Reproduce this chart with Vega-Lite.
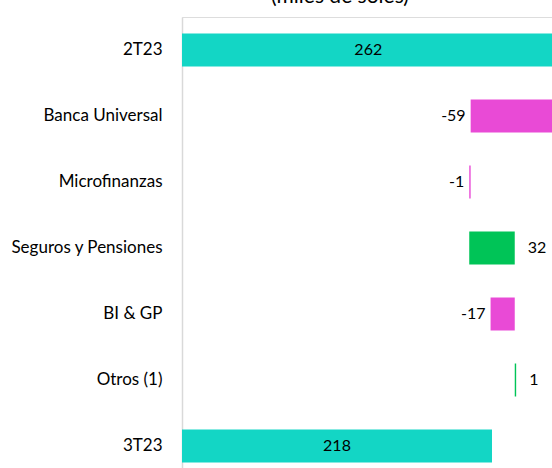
{
  "$schema": "https://vega.github.io/schema/vega-lite/v6.json",
  "autosize": "none",
  "width": 370,
  "height": 462,
  "padding": {"left": 182, "top": 17, "right": 0, "bottom": 0},
  "background": "white",
  "title": {
    "text": "(miles de soles)",
    "font": "Lato",
    "fontSize": 21,
    "fontWeight": "normal",
    "color": "#000000",
    "anchor": "middle",
    "dx": -27,
    "dy": -10,
    "offset": 0
  },
  "data": {
    "values": [
      {"cat": "2T23", "start": 0, "end": 262, "kind": "total", "label": "262"},
      {"cat": "Banca Universal", "start": 262, "end": 203, "kind": "neg", "label": "-59"},
      {"cat": "Microfinanzas", "start": 203, "end": 202, "kind": "neg", "label": "-1"},
      {"cat": "Seguros y Pensiones", "start": 202, "end": 234, "kind": "pos", "label": "32"},
      {"cat": "BI & GP", "start": 234, "end": 217, "kind": "neg", "label": "-17"},
      {"cat": "Otros (1)", "start": 234, "end": 235, "kind": "pos", "label": "1"},
      {"cat": "3T23", "start": 0, "end": 218, "kind": "total", "label": "218"}
    ]
  },
  "encoding": {
    "y": {
      "field": "cat",
      "type": "nominal",
      "sort": null,
      "scale": {"paddingInner": 0.5, "paddingOuter": 0.25},
      "axis": {
        "title": null,
        "ticks": false,
        "labelPadding": 20,
        "labelFont": "Lato",
        "labelFontSize": 17,
        "labelColor": "#000000",
        "domainColor": "#d9d9d9",
        "domainWidth": 1.5
      }
    }
  },
  "resolve": {"scale": {"x": "independent"}},
  "layer": [
    {
      "layer": [
        {
          "mark": {"type": "bar", "clip": true},
          "encoding": {
            "x": {"field": "start", "type": "quantitative", "scale": {"domain": [0, 260.2], "nice": false, "zero": false}, "axis": null},
            "x2": {"field": "end"},
            "color": {
              "field": "kind",
              "type": "nominal",
              "scale": {"domain": ["total", "neg", "pos"], "range": ["#13D6C5", "#E94AD6", "#00C457"]},
              "legend": null
            }
          }
        },
        {
          "transform": [{"filter": "datum.kind == 'neg'"}],
          "mark": {"type": "text", "font": "Lato", "fontSize": 16, "color": "#000000", "align": "right", "baseline": "middle", "dx": -5},
          "encoding": {
            "x": {"field": "end", "type": "quantitative"},
            "text": {"field": "label"}
          }
        },
        {
          "transform": [{"filter": "datum.kind == 'pos'"}],
          "mark": {"type": "text", "font": "Lato", "fontSize": 16, "color": "#000000", "align": "left", "baseline": "middle", "dx": 13},
          "encoding": {
            "x": {"field": "end", "type": "quantitative"},
            "text": {"field": "label"}
          }
        }
      ]
    },
    {
      "transform": [{"filter": "datum.kind == 'total'"}],
      "mark": {"type": "text", "font": "Lato", "fontSize": 16, "color": "#000000", "align": "center", "baseline": "middle"},
      "encoding": {
        "x": {"field": "end", "type": "quantitative", "scale": {"domain": [0, 520.4], "nice": false, "zero": false}, "axis": null},
        "text": {"field": "label"}
      }
    }
  ]
}
